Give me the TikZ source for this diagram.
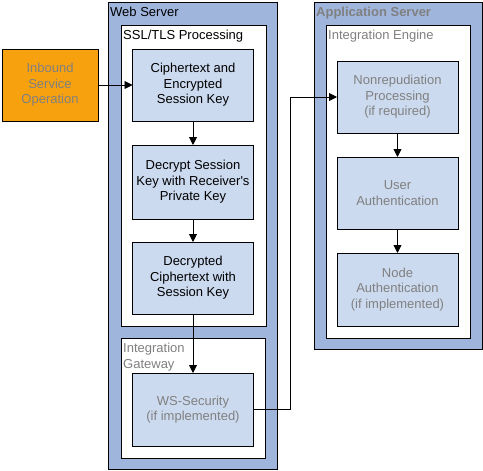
\documentclass[tikz,border=0pt]{standalone}
\usepackage{fontspec}
\setmainfont{Liberation Sans}[Ligatures=TeXOff]
\usetikzlibrary{arrows.meta}
\definecolor{serverblue}{HTML}{A0B5DC}
\definecolor{stepblue}{HTML}{CCDAEF}
\definecolor{inorange}{HTML}{F8A10E}
\definecolor{paletext}{HTML}{808080}
\begin{document}
\begin{tikzpicture}[x=1pt,y=-1pt,
	every node/.style={font=\fontsize{13}{15.6}\selectfont},
	box/.style={draw,line width=0.9pt,rectangle,anchor=north west,inner sep=0pt,outer sep=0pt},
	server/.style={box,fill=serverblue},
	layer/.style={box,fill=white},
	stepbox/.style={box,fill=stepblue,align=center,anchor=center,minimum width=121pt,minimum height=72pt},
	title/.style={anchor=north west,inner xsep=2pt,inner ysep=5pt,align=left},
	arr/.style={-{Triangle[length=8pt,width=8pt]},line width=0.9pt}]
	\useasboundingbox (0,0) rectangle (483,471);
	% containers
	\node[server,minimum width=169pt,minimum height=467pt] (web) at (108,2) {};
	\node[title] at (web.north west) {Web Server};
	\node[layer,minimum width=145pt,minimum height=301pt] (ssl) at (121,25) {};
	\node[title] at (ssl.north west) {SSL/TLS Processing};
	\node[layer,minimum width=144pt,minimum height=120pt] (gateway) at (121,338) {};
	\node[title,text=paletext] at (gateway.north west) {Integration\\Gateway};
	\node[server,minimum width=168pt,minimum height=347pt] (app) at (314,2) {};
	\node[title,text=paletext,font=\fontsize{13}{15.6}\selectfont\bfseries] at (app.north west) {Application Server};
	\node[layer,minimum width=144pt,minimum height=313pt] (engine) at (326,25) {};
	\node[title,text=paletext] at (engine.north west) {Integration Engine};
	% steps
	\node[stepbox,fill=inorange,minimum width=96pt,text=paletext] (inbound) at (50,85) {Inbound\\Service\\Operation};
	\node[stepbox] (cipher) at (193,85) {Ciphertext and\\Encrypted\\Session Key};
	\node[stepbox,minimum height=74pt] (decrypt) at (193,182) {Decrypt Session\\Key with Receiver's\\Private Key};
	\node[stepbox] (plain) at (193,278) {Decrypted\\Ciphertext with\\Session Key};
	\node[stepbox,minimum height=73pt,text=paletext] (ws) at (193,409.5) {WS-Security\\(if implemented)};
	\node[stepbox,text=paletext] (nonrep) at (397.5,97) {Nonrepudiation\\Processing\\(if required)};
	\node[stepbox,text=paletext] (user) at (397.5,193) {User\\Authentication};
	\node[stepbox,minimum height=73pt,text=paletext] (nodeauth) at (397.5,289.5) {Node\\Authentication\\(if implemented)};
	\coordinate (bend) at (290,97);
	% flow
	\draw[arr] (inbound) -- (cipher);
	\draw[arr] (cipher) -- (decrypt);
	\draw[arr] (decrypt) -- (plain);
	\draw[arr] (plain) -- (ws);
	\draw[arr] (ws.east) -| (bend) -- (nonrep.west);
	\draw[arr] (nonrep) -- (user);
	\draw[arr] (user) -- (nodeauth);
\end{tikzpicture}
\end{document}
